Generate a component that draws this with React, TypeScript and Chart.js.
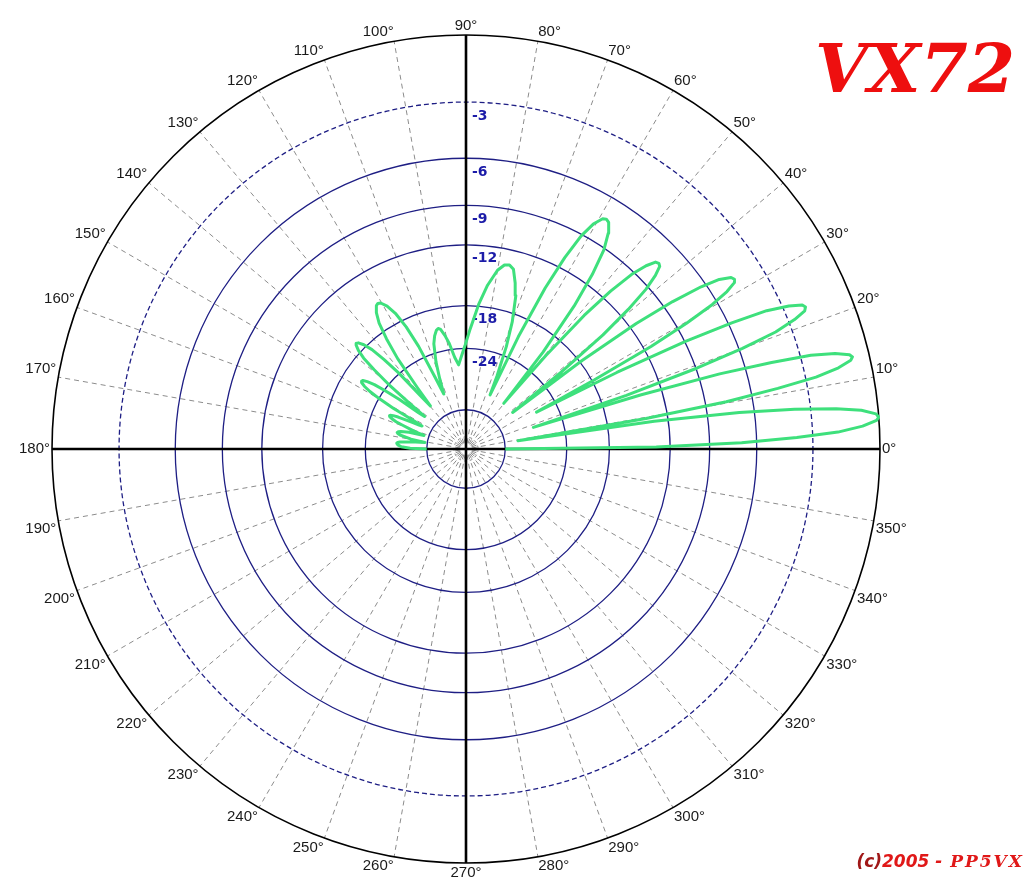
import React, { useEffect, useRef } from "react";
import { Chart, registerables } from "chart.js";

Chart.register(...registerables);

// Elevation pattern: angle (degrees) and relative gain (dB)
const PATTERN_ANGLE = [
  0,
  0.6, 1.3, 2.0, 2.6, 3.3, 4.0, 4.4, 4.9, 5.6, 6.2, 6.9, 7.6, 8.4,
  9.0,
  9.6, 10.3, 11.0, 11.6, 12.3, 13.0, 13.4, 13.8, 14.5, 15.2, 15.8, 16.5, 17.2,
  17.8,
  18.5, 19.3, 20.0, 20.7, 21.5, 22.2, 22.7, 23.2, 23.9, 24.7, 25.4, 26.1, 26.9,
  27.6,
  28.3, 29.0, 29.7, 30.4, 31.1, 31.8, 32.3, 32.9, 33.8, 34.6, 35.5, 36.4, 37.3,
  38.1,
  38.9, 39.8, 40.7, 41.6, 42.5, 43.3, 43.9, 44.6, 45.5, 46.5, 47.5, 48.5, 49.5,
  50.4,
  51.5, 52.9, 54.1, 55.3, 56.6, 57.8, 58.6, 59.3, 60.5, 61.6, 62.7, 63.8, 65.0,
  66.0,
  67.0, 68.5, 70.0, 72.0, 73.5, 75.2, 76.7, 78.2, 80.0, 82.5, 85.0, 88.0, 90.5, 93.0,
  95.0,
  97.0, 99.0, 100.5, 102.0, 103.0, 104.0, 105.5, 107.0, 109.0, 110.5,
  112.0,
  113.3, 114.8, 116.1, 117.5, 118.9, 120.3, 121.2, 122.0, 123.3, 124.6, 125.8, 127.1, 128.4,
  129.6,
  130.5, 131.5, 132.5, 133.4, 134.4, 135.4, 136.0, 136.6, 137.5, 138.4, 139.2, 140.1, 141.1,
  141.9,
  142.6, 143.4, 144.2, 144.9, 145.7, 146.4, 146.9, 147.5, 148.3, 149.1, 149.9, 150.8, 151.6,
  152.4,
  153.0, 153.6, 154.2, 154.8, 155.4, 156.0, 156.4, 157.0, 157.8, 158.7, 159.5, 160.4, 161.3,
  162.1,
  163.5, 165.0, 165.8, 166.5, 167.2, 168.0, 169.8,
  171.1,
  172.5, 174.0, 174.6, 175.2, 175.8, 176.5, 178.0, 179.3,
  180.0,
];

const PATTERN_DB = [
  -40,
  -13.2, -6.9, -3.8, -1.8, -0.7, -0.1, 0, -0.1, -0.7, -1.8, -3.8, -6.9, -13.2,
  -35,
  -13.9, -7.6, -4.5, -2.5, -1.4, -0.8, -0.7, -0.8, -1.4, -2.5, -4.5, -7.6, -13.9,
  -30,
  -15.2, -8.9, -5.8, -3.8, -2.7, -2.1, -2.0, -2.1, -2.7, -3.8, -5.8, -8.9, -15.2,
  -28,
  -17.7, -11.4, -8.3, -6.3, -5.2, -4.6, -4.5, -4.6, -5.2, -6.3, -8.3, -11.4, -17.7,
  -33,
  -20.6, -14.3, -11.2, -9.2, -8.1, -7.5, -7.4, -7.5, -8.1, -9.2, -11.2, -14.3, -20.6,
  -33,
  -20.5, -14.2, -11.1, -9.1, -8.0, -7.4, -7.3, -7.4, -8.0, -9.1, -11.1, -14.2, -20.5,
  -33,
  -28, -22.5, -19, -16, -14.8, -13.6, -13.3, -13.4, -14.0, -15.6, -17.8, -21, -23.5, -25.5,
  -27,
  -25.5, -23, -21.7, -20.7, -20.5, -20.7, -21.4, -22.5, -25.5, -29,
  -33,
  -28.3, -22.0, -18.9, -16.9, -15.8, -15.2, -15.1, -15.2, -15.8, -16.9, -18.9, -22.0, -28.3,
  -34,
  -30.2, -23.9, -20.8, -18.8, -17.7, -17.1, -17.0, -17.1, -17.7, -18.8, -20.8, -23.9, -30.2,
  -35,
  -33, -27.3, -24.2, -22.2, -21.1, -20.5, -20.4, -20.5, -21.1, -22.2, -24.2, -27.3, -33,
  -36,
  -35, -33, -30.9, -29.0, -27.9, -27.3, -27.2, -27.3, -27.9, -29.0, -30.9, -33, -35,
  -38,
  -33, -30.8, -30.2, -30, -30.2, -30.8, -34,
  -39,
  -34, -31, -30.5, -30.3, -30.4, -30.6, -31.5, -34,
  -40,
];

const DB_RINGS = [-3, -6, -9, -12, -18, -24];
const DB_RING_LABELS = ["-3", "-6", "-9", "-12", "-18", "-24"];
const INNER_RING = -40;
const CENTER_RING = -60;

const ANGLE_TICKS = [
  0, 10, 20, 30, 40, 50, 60, 70, 80, 90, 100, 110, 120, 130, 140, 150, 160, 170,
  180, 190, 200, 210, 220, 230, 240, 250, 260, 270, 280, 290, 300, 310, 320, 330, 340, 350,
];
const ANGLE_LABELS = [
  "0°", "10°", "20°", "30°", "40°", "50°", "60°", "70°", "80°", "90°",
  "100°", "110°", "120°", "130°", "140°", "150°", "160°", "170°", "180°",
  "190°", "200°", "210°", "220°", "230°", "240°", "250°", "260°", "270°",
  "280°", "290°", "300°", "310°", "320°", "330°", "340°", "350°",
];

const TITLE = "VX72";
const COPY_A = "(c)";
const COPY_B = "2005 - ";
const COPY_C = "PP5VX";

// Log-periodic (ARRL-like) radial scale: 0 dB on the rim
const K = 0.0589;
const rho = (db: number) => Math.exp(K * db);

const GREEN = "#3ee07c";
const NAVY = "#1e1e84";

const polarGridPlugin = {
  id: "polarGrid",
  beforeDatasetsDraw(chart: any) {
    const ctx: CanvasRenderingContext2D = chart.ctx;
    const xs = chart.scales.x;
    const ys = chart.scales.y;
    const cx = xs.getPixelForValue(0);
    const cy = ys.getPixelForValue(0);
    const R = xs.getPixelForValue(1) - cx;
    const rpx = (db: number) => xs.getPixelForValue(rho(db)) - cx;
    ctx.save();

    // dashed spokes
    ctx.strokeStyle = "#8c8c8c";
    ctx.lineWidth = 1;
    ctx.setLineDash([5, 4]);
    for (const a of ANGLE_TICKS) {
      if (a % 90 === 0) continue;
      const t = (a * Math.PI) / 180;
      ctx.beginPath();
      ctx.moveTo(cx + 6 * Math.cos(t), cy - 6 * Math.sin(t));
      ctx.lineTo(cx + R * Math.cos(t), cy - R * Math.sin(t));
      ctx.stroke();
    }
    // tiny center ring
    ctx.setLineDash([3, 3]);
    ctx.beginPath();
    ctx.arc(cx, cy, rpx(CENTER_RING), 0, Math.PI * 2);
    ctx.stroke();

    // dB rings
    ctx.strokeStyle = NAVY;
    ctx.lineWidth = 1.3;
    DB_RINGS.forEach((db, i) => {
      ctx.setLineDash(i === 0 ? [5, 3] : []);
      ctx.beginPath();
      ctx.arc(cx, cy, rpx(db), 0, Math.PI * 2);
      ctx.stroke();
    });
    ctx.setLineDash([]);
    ctx.beginPath();
    ctx.arc(cx, cy, rpx(INNER_RING), 0, Math.PI * 2);
    ctx.stroke();

    // outer rim
    ctx.strokeStyle = "#000";
    ctx.lineWidth = 1.6;
    ctx.beginPath();
    ctx.arc(cx, cy, R, 0, Math.PI * 2);
    ctx.stroke();

    // main axes
    ctx.lineWidth = 2.6;
    ctx.beginPath();
    ctx.moveTo(cx - R, cy);
    ctx.lineTo(cx + R, cy);
    ctx.moveTo(cx, cy - R);
    ctx.lineTo(cx, cy + R);
    ctx.stroke();

    // angle labels
    ctx.fillStyle = "#1a1a1a";
    ctx.font = '15px "Liberation Sans", Arial, sans-serif';
    ANGLE_TICKS.forEach((a, i) => {
      const t = (a * Math.PI) / 180;
      const c = Math.cos(t);
      const s = Math.sin(t);
      const px = cx + (R + 2) * c;
      const py = cy - (R + 2) * s;
      ctx.textAlign = c > 0.01 ? "left" : c < -0.01 ? "right" : "center";
      ctx.textBaseline = s > 0.01 ? "bottom" : s < -0.01 ? "top" : "middle";
      ctx.fillText(ANGLE_LABELS[i], px, py);
    });

    // dB labels
    ctx.fillStyle = "#1c1ca8";
    ctx.font = 'bold 14px "DejaVu Sans", sans-serif';
    ctx.textAlign = "left";
    ctx.textBaseline = "top";
    DB_RINGS.forEach((db, i) => {
      ctx.fillText(DB_RING_LABELS[i], cx + 6, cy - rpx(db) + 7);
    });
    ctx.restore();
  },
  afterDraw(chart: any) {
    const ctx: CanvasRenderingContext2D = chart.ctx;
    ctx.save();
    ctx.fillStyle = "#ee0f0f";
    ctx.font = 'italic bold 68px "DejaVu Serif", serif';
    ctx.textAlign = "left";
    ctx.textBaseline = "alphabetic";
    ctx.fillText(TITLE, 815, 92, 206);

    // copyright, right-aligned
    const right = 1024;
    const base = 867;
    ctx.textAlign = "right";
    ctx.font = 'italic bold 17px "DejaVu Serif", serif';
    (ctx as any).letterSpacing = "2px";
    ctx.fillStyle = "#e01818";
    ctx.fillText(COPY_C, right, base);
    const wC = ctx.measureText(COPY_C).width;
    (ctx as any).letterSpacing = "0px";
    ctx.font = 'italic bold 17px "DejaVu Sans", sans-serif';
    ctx.fillText(COPY_B, right - wC - 2, base);
    const wB = ctx.measureText(COPY_B).width;
    ctx.fillStyle = "#a01818";
    ctx.fillText(COPY_A, right - wC - 2 - wB, base);
    ctx.restore();
  },
};

export default function App() {
  const ref = useRef<HTMLCanvasElement | null>(null);
  useEffect(() => {
    if (!ref.current) return;
    const points = PATTERN_ANGLE.map((a, i) => {
      const r = rho(PATTERN_DB[i]);
      const t = (a * Math.PI) / 180;
      return { x: r * Math.cos(t), y: r * Math.sin(t) };
    });
    const chart = new Chart(ref.current, {
      type: "scatter",
      data: {
        datasets: [
          {
            data: points,
            showLine: true,
            borderColor: GREEN,
            backgroundColor: GREEN,
            borderWidth: 3,
            pointRadius: 0,
            fill: false,
            tension: 0,
            borderJoinStyle: "round",
          } as any,
        ],
      },
      options: {
        responsive: false,
        animation: false,
        devicePixelRatio: 1,
        layout: { padding: { left: 52, right: 147, top: 35, bottom: 17 } },
        scales: {
          x: { type: "linear", min: -1, max: 1, display: false },
          y: { type: "linear", min: -1, max: 1, display: false },
        },
        plugins: {
          legend: { display: false },
          tooltip: { enabled: false },
          title: { display: false },
        },
      },
      plugins: [polarGridPlugin],
    });
    return () => chart.destroy();
  }, []);
  return (
    <div style={{ position: "fixed", left: 0, top: 0, width: 1027, height: 880, background: "#fff" }}>
      <canvas ref={ref} width={1027} height={880} style={{ width: 1027, height: 880, display: "block" }} />
    </div>
  );
}
